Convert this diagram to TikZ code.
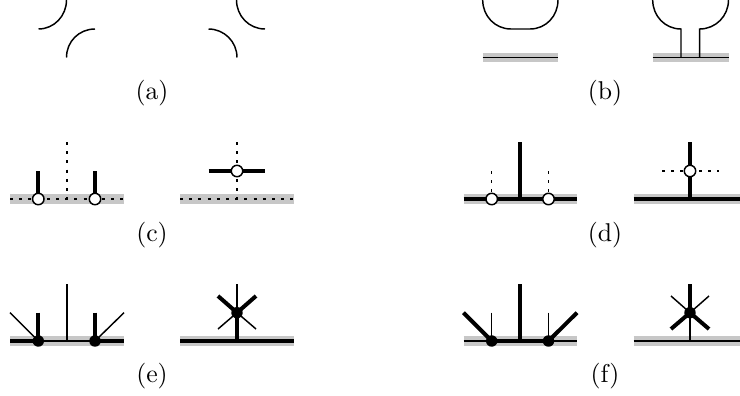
\documentclass[tikz,border=0pt]{standalone}
\tikzset{
  thinl/.style={line width=1.1pt,black},
  thickl/.style={line width=3pt,black},
  dotl/.style={line width=1.1pt,black,dash pattern=on 2.3pt off 4.6pt},
  band/.style={line width=6.9pt,black!22},
  opend/.style={circle,draw=black,line width=1.1pt,fill=white,inner sep=0pt,minimum size=8.6pt},
  fulld/.style={circle,fill=black,inner sep=0pt,minimum size=8.6pt},
  figlabel/.style={scale=1.93,transform shape,inner sep=0pt}
}
\begin{document}
\begin{tikzpicture}[x=0.75pt,y=-0.75pt]
\useasboundingbox (0,0) rectangle (740,396);
\clip (0,0) rectangle (740,396);
% (a)
\draw[thinl] (66.5,0) .. controls (66.5,16) and (54,29) .. (38.5,29);
\draw[thinl] (66.5,57.5) .. controls (66.5,41.5) and (79,29) .. (95,29);
\draw[thinl] (236.5,0) .. controls (236.5,16) and (249,29) .. (265,29);
\draw[thinl] (208.5,29) .. controls (224,29) and (237,41.5) .. (237,57.5);
\node[figlabel] (la) at (152,93) {(a)};
% (b)
\draw[band] (482.7,57.5) -- (558,57.5);
\draw[thinl] (482.7,57.5) -- (558,57.5);
\draw[thinl] (482.7,0) .. controls (482.7,16) and (495,29) .. (511,29) -- (530,29) .. controls (546,29) and (558,16) .. (558,0);
\draw[band] (652.7,57.5) -- (728.5,57.5);
\draw[thinl] (652.7,57.5) -- (728.5,57.5);
\draw[thinl] (652.7,0) .. controls (652.7,16) and (665,29) .. (681,29) -- (681,57.5);
\draw[thinl] (699.7,57.5) -- (699.7,29) .. controls (715.7,29) and (728.5,16) .. (728.5,0);
\node[figlabel] (lb) at (605,93) {(b)};
% (c)
\draw[band] (10,199) -- (124,199);
\draw[dotl] (10,199) -- (124,199);
\draw[dotl] (67,142) -- (67,199);
\draw[thickl] (38.3,171) -- (38.3,199);
\draw[thickl] (95,171) -- (95,199);
\node[opend] (c1) at (38.3,199) {};
\node[opend] (c2) at (95,199) {};
\draw[band] (180,199) -- (293.5,199);
\draw[dotl] (180,199) -- (293.5,199);
\draw[dotl] (237,142) -- (237,199);
\draw[thickl] (208.5,171) -- (265,171);
\node[opend] (c3) at (237,171) {};
\node[figlabel] (lc) at (152,235.5) {(c)};
% (d)
\draw[band] (463.5,199) -- (577,199);
\draw[thickl] (463.5,199) -- (577,199);
\draw[thickl] (520.3,142) -- (520.3,199);
\draw[dotl] (491.7,171) -- (491.7,199);
\draw[dotl] (548.5,171) -- (548.5,199);
\node[opend] (d1) at (491.7,199) {};
\node[opend] (d2) at (548.5,199) {};
\draw[band] (633.7,199) -- (740,199);
\draw[thickl] (633.7,199) -- (740,199);
\draw[thickl] (690,142) -- (690,199);
\draw[dotl] (662,171) -- (719,171);
\node[opend] (d3) at (690,171) {};
\node[figlabel] (ld) at (605,235.5) {(d)};
% (e)
\draw[band] (10,341) -- (124,341);
\draw[thickl] (10,341) -- (38.3,341);
\draw[thickl] (95,341) -- (124,341);
\draw[thinl] (38.3,341) -- (95,341);
\draw[thinl] (67,284) -- (67,341);
\draw[thinl] (10,312.7) -- (38.3,341);
\draw[thinl] (124,312.7) -- (95,341);
\draw[thickl] (38.3,312.7) -- (38.3,341);
\draw[thickl] (95,312.7) -- (95,341);
\node[fulld] (e1) at (38.3,341) {};
\node[fulld] (e2) at (95,341) {};
\draw[band] (180,341) -- (293.5,341);
\draw[thickl] (180,341) -- (293.5,341);
\draw[thickl] (237,312.7) -- (237,341);
\draw[thinl] (237,284) -- (237,312.7);
\draw[thickl] (218,296) -- (237,312.7) -- (256,296);
\draw[thinl] (218,329) -- (237,312.7) -- (256,329);
\node[fulld] (e3) at (237,312.7) {};
\node[figlabel] (le) at (152,376.5) {(e)};
% (f)
\draw[band] (463.5,341) -- (577,341);
\draw[thinl] (463.5,341) -- (577,341);
\draw[thickl] (491.7,341) -- (548.5,341);
\draw[thickl] (520.3,284) -- (520.3,341);
\draw[thinl] (491.7,312.7) -- (491.7,341);
\draw[thinl] (548.5,312.7) -- (548.5,341);
\draw[thickl] (463.5,312.7) -- (491.7,341);
\draw[thickl] (577,312.7) -- (548.5,341);
\node[fulld] (f1) at (491.7,341) {};
\node[fulld] (f2) at (548.5,341) {};
\draw[band] (633.7,341) -- (740,341);
\draw[thinl] (633.7,341) -- (740,341);
\draw[thinl] (690,312.7) -- (690,341);
\draw[thickl] (690,284) -- (690,312.7);
\draw[thinl] (671,296) -- (690,312.7) -- (709,296);
\draw[thickl] (671,329) -- (690,312.7) -- (709,329);
\node[fulld] (f3) at (690,312.7) {};
\node[figlabel] (lf) at (605,376.5) {(f)};
\end{tikzpicture}
\end{document}
